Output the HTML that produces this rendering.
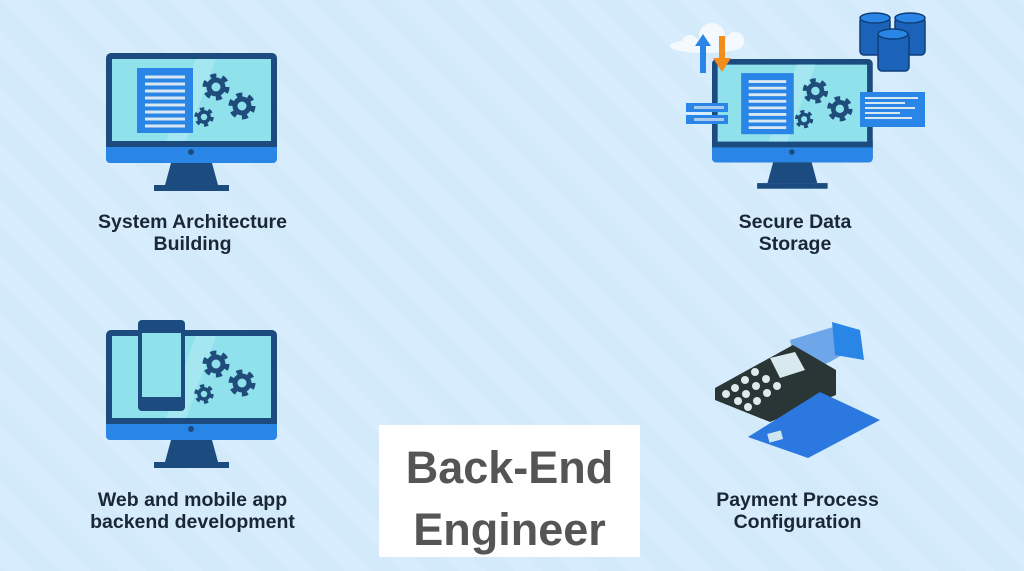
<!DOCTYPE html>
<html><head><meta charset="utf-8"><style>
html,body{margin:0;padding:0;}
body{width:1024px;height:571px;overflow:hidden;background:#d3eafb;font-family:"Liberation Sans",sans-serif;position:relative;}
.lbl{position:absolute;text-align:center;font-weight:bold;font-size:19.5px;color:#1a2735;line-height:22px;}
.box{position:absolute;left:379px;top:425px;width:261px;height:132px;background:#fff;text-align:center;font-weight:bold;font-size:45px;color:#555;line-height:62px;padding-top:12px;box-sizing:border-box;}
</style></head><body>
<svg width="1024" height="571" style="position:absolute;left:0;top:0">
<defs>
<pattern id="st" width="40" height="40" patternUnits="userSpaceOnUse" patternTransform="rotate(-45)">
<rect width="40" height="40" fill="#d3eafb"/><rect width="20" height="40" fill="#d7ecfc"/></pattern>
<g id="gear"><circle r="10.5" fill="none" stroke="#1f4c7a" stroke-width="6" stroke-dasharray="5.5 5.5"/><circle r="9.5" fill="#1f4c7a"/><circle r="4.5" fill="#8fe1ec"/></g>
<g id="mon">
<rect x="0" y="0" width="171" height="110" rx="5" fill="#1b4b7f"/>
<rect x="6" y="6" width="159" height="82" fill="#8fe1ec"/>
<polygon points="60,88 90,6 110,6 80,88" fill="#a4e7f0"/>
<rect x="0" y="88" width="171" height="22" rx="4" fill="#2a86e6"/>
<rect x="0" y="88" width="171" height="6" fill="#1b4b7f"/>
<circle cx="85" cy="99" r="3" fill="#1b4b7f"/>
<polygon points="65,110 106,110 112,132 59,132" fill="#1b4b7f"/>
<rect x="48" y="132" width="75" height="6" fill="#1b4b7f"/>
<use href="#gear" x="110" y="34"/>
<use href="#gear" x="136" y="53"/>
<g transform="translate(98,64) scale(0.72)"><use href="#gear"/></g>
</g>
<g id="doc"><rect width="56" height="65" fill="#2a86e6"/>
<g stroke="#d8e7f2" stroke-width="3"><line x1="8" y1="9" x2="48" y2="9"/><line x1="8" y1="16" x2="48" y2="16"/><line x1="8" y1="23" x2="48" y2="23"/><line x1="8" y1="30" x2="48" y2="30"/><line x1="8" y1="37" x2="48" y2="37"/><line x1="8" y1="44" x2="48" y2="44"/><line x1="8" y1="51" x2="48" y2="51"/><line x1="8" y1="58" x2="48" y2="58"/></g></g>
</defs>
<rect width="1024" height="571" fill="url(#st)"/>
<g transform="translate(106,53)"><use href="#mon"/><use href="#doc" x="31" y="15"/></g>
<g transform="translate(712,59) scale(0.94,0.94)"><use href="#mon"/><use href="#doc" x="31" y="15"/></g>
<g fill="#f4f9fd"><ellipse cx="705" cy="46" rx="35" ry="7"/><circle cx="712" cy="36" r="13"/><circle cx="735" cy="41" r="9"/><circle cx="690" cy="43" r="8"/></g>
<polygon points="703,34 711,46 706,46 706,73 700,73 700,46 695,46" fill="#2a86e6"/>
<polygon points="719,36 725,36 725,58 731,58 722,72 713,58 719,58" fill="#f28c1c"/>
<rect x="686" y="103" width="42" height="9" fill="#2a86e6"/><rect x="694" y="106" width="30" height="3" fill="#aac9ee"/>
<rect x="686" y="115" width="42" height="9" fill="#2a86e6"/><rect x="694" y="118" width="30" height="3" fill="#aac9ee"/>
<rect x="860" y="92" width="65" height="35" fill="#2a86e6"/>
<g stroke="#d8e7f2" stroke-width="2"><line x1="865" y1="98" x2="918" y2="98"/><line x1="865" y1="103" x2="905" y2="103"/><line x1="865" y1="108" x2="915" y2="108"/><line x1="865" y1="113" x2="900" y2="113"/><line x1="865" y1="118" x2="912" y2="118"/></g>
<g fill="#1b63b8" stroke="#0f3d78" stroke-width="1.5">
<rect x="860" y="17" width="30" height="38" rx="4"/><ellipse cx="875" cy="18" rx="15" ry="5" fill="#2a86e6"/>
<rect x="895" y="17" width="30" height="38" rx="4"/><ellipse cx="910" cy="18" rx="15" ry="5" fill="#2a86e6"/>
<rect x="878" y="33" width="31" height="38" rx="4"/><ellipse cx="893" cy="34" rx="15" ry="5" fill="#2a86e6"/>
</g>
<g transform="translate(106,330)"><use href="#mon"/></g>
<rect x="138" y="320" width="47" height="91" rx="4" fill="#1b4b7f"/>
<rect x="142" y="333" width="39" height="64" fill="#8fe1ec"/>
<g>
<polygon points="790,340 840,325 850,350 830,362 798,375" fill="#6ea6ea"/>
<polygon points="832,322 860,330 864,360 835,355" fill="#2a86e6"/>
<polygon points="793,345 836,370 836,395 770,422 715,400 715,388" fill="#2a3536"/>
<polygon points="770,358 795,352 805,370 780,378" fill="#d8eaf0"/>
<g fill="#dfe9ee"><circle cx="755" cy="372" r="4"/><circle cx="766" cy="379" r="4"/><circle cx="777" cy="386" r="4"/><circle cx="745" cy="380" r="4"/><circle cx="756" cy="386" r="4"/><circle cx="767" cy="393" r="4"/><circle cx="735" cy="388" r="4"/><circle cx="746" cy="394" r="4"/><circle cx="757" cy="401" r="4"/><circle cx="726" cy="394" r="4"/><circle cx="738" cy="401" r="4"/><circle cx="748" cy="407" r="4"/></g>
<polygon points="820,392 880,420 808,458 748,437" fill="#2a78e0"/>
<rect x="768" y="432" width="14" height="9" fill="#cfe6f0" transform="rotate(-15 775 436)"/>
</g>
</svg>
<div class="lbl" style="left:70px;top:211px;width:245px">System Architecture<br>Building</div>
<div class="lbl" style="left:690px;top:211px;width:210px">Secure Data<br>Storage</div>
<div class="lbl" style="left:70px;top:489px;width:245px">Web and mobile app<br>backend development</div>
<div class="lbl" style="left:680px;top:489px;width:235px">Payment Process<br>Configuration</div>
<div class="box">Back-End<br>Engineer</div>
</body></html>
